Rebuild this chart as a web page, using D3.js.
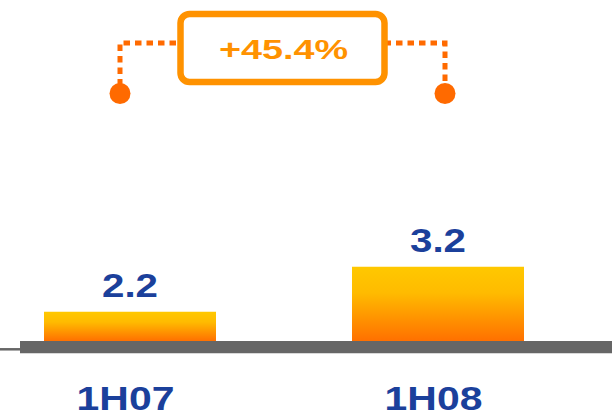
<!DOCTYPE html>
<html>
<head>
<meta charset="utf-8">
<script src="https://cdn.jsdelivr.net/npm/d3@7"></script>
<style>
  html, body { margin: 0; padding: 0; background: #ffffff; }
  svg { display: block; }
</style>
</head>
<body>
<script>
// ---- data ----
const categories = ["1H07", "1H08"];
const values = [2.2, 3.2];
const valueLabels = ["2.2", "3.2"];
const growthLabel = "+45.4%";

// ---- layout ----
const W = 612, H = 417;
const baseY = 341;
const font = "'Liberation Sans', Arial, sans-serif";
const blue = "#1B409B";

const svg = d3.select("body").append("svg")
  .attr("width", W).attr("height", H);

const defs = svg.append("defs");
const grad = defs.append("linearGradient")
  .attr("id", "barGrad").attr("x1", 0).attr("y1", 0).attr("x2", 0).attr("y2", 1);
grad.append("stop").attr("offset", "0%").attr("stop-color", "#FFC800");
grad.append("stop").attr("offset", "35%").attr("stop-color", "#FFBB00");
grad.append("stop").attr("offset", "100%").attr("stop-color", "#FF7000");

const x = d3.scaleBand()
  .domain(categories)
  .range([-24, 592])
  .paddingInner(136 / 308)
  .paddingOuter(68 / 308);

const y = d3.scaleLinear()
  .domain([1.55, 3.2])
  .range([baseY, baseY - 1.65 * 45]);

// bars
svg.append("g").selectAll("rect")
  .data(values)
  .join("rect")
  .attr("x", (d, i) => x(categories[i]))
  .attr("y", d => y(d))
  .attr("width", x.bandwidth())
  .attr("height", d => baseY - y(d))
  .attr("fill", "url(#barGrad)");

// axis band
svg.append("line")
  .attr("x1", 0).attr("x2", 21).attr("y1", 349.3).attr("y2", 349.3)
  .attr("stroke", "#666666").attr("stroke-width", 2.5);
svg.append("rect")
  .attr("x", 20).attr("y", baseY).attr("width", W - 20).attr("height", 12)
  .attr("fill", "#666666");
svg.append("line")
  .attr("x1", 20).attr("x2", W).attr("y1", baseY + 12.5).attr("y2", baseY + 12.5)
  .attr("stroke", "#d8d8d8").attr("stroke-width", 1);

// value labels (wide bold face: horizontally stretched)
svg.append("g").selectAll("text")
  .data(values)
  .join("text")
  .attr("transform", (d, i) =>
    `translate(${x(categories[i]) + x.bandwidth() / 2},${y(d) - 14.5}) scale(1.24,1)`)
  .attr("text-anchor", "middle")
  .attr("font-family", font).attr("font-weight", "bold")
  .attr("font-size", 32.5).attr("fill", blue)
  .text((d, i) => valueLabels[i]);

// category labels
svg.append("g").selectAll("text")
  .data(categories)
  .join("text")
  .attr("transform", d =>
    `translate(${x(d) + x.bandwidth() / 2 - 4.5},409.8) scale(1.24,1)`)
  .attr("text-anchor", "middle")
  .attr("font-family", font).attr("font-weight", "bold")
  .attr("font-size", 33).attr("fill", blue)
  .text(d => d);

// growth annotation
const dotColor = "#FF6A00";
const boxColor = "#FF9200";
const leftX = 120, rightX = 445, topY = 43, dotY = 93.5;
const boxX = 180.5, boxY = 14, boxW = 204, boxH = 68;

svg.append("path")
  .attr("d", `M${leftX},${dotY - 8} V${topY} H${boxX}`)
  .attr("fill", "none").attr("stroke", dotColor)
  .attr("stroke-width", 5).attr("stroke-dasharray", "6.5,5");
svg.append("path")
  .attr("d", `M${boxX + boxW},${topY} H${rightX} V${dotY - 8}`)
  .attr("fill", "none").attr("stroke", dotColor)
  .attr("stroke-width", 5).attr("stroke-dasharray", "6.5,5");

svg.append("circle").attr("cx", leftX).attr("cy", dotY).attr("r", 10.5).attr("fill", dotColor);
svg.append("circle").attr("cx", rightX).attr("cy", dotY).attr("r", 10.5).attr("fill", dotColor);

svg.append("rect")
  .attr("x", boxX).attr("y", boxY).attr("width", boxW).attr("height", boxH)
  .attr("rx", 9).attr("ry", 9)
  .attr("fill", "#ffffff").attr("stroke", boxColor).attr("stroke-width", 6.5);

svg.append("text")
  .attr("transform", `translate(283.5,59.2) scale(1.4,1)`)
  .attr("text-anchor", "middle")
  .attr("font-family", font).attr("font-weight", "bold")
  .attr("font-size", 27).attr("fill", boxColor)
  .text(growthLabel);
</script>
</body>
</html>
